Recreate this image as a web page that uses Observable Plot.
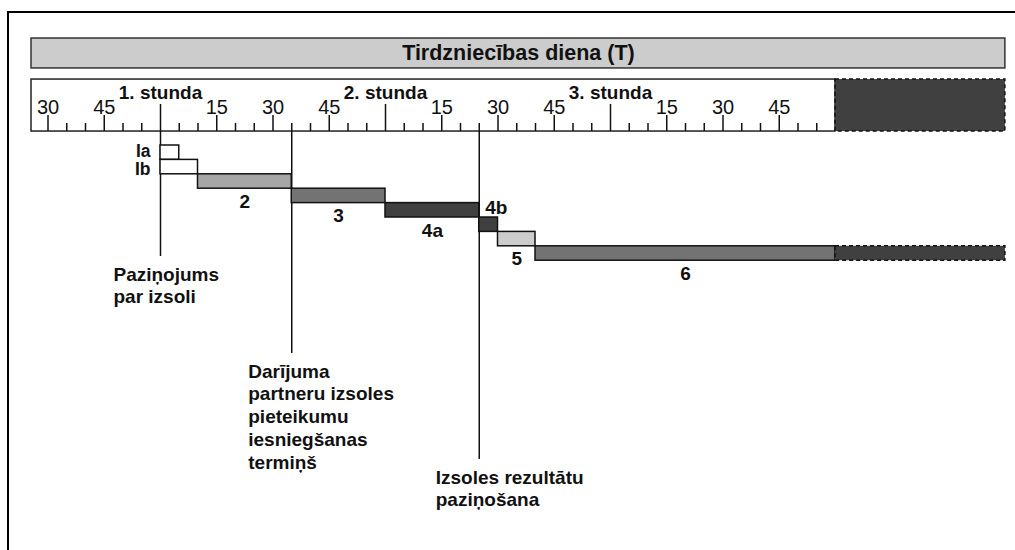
<!DOCTYPE html>
<html>
<head>
<meta charset="utf-8">
<script src="https://cdn.jsdelivr.net/npm/d3@7"></script>
<script src="https://cdn.jsdelivr.net/npm/@observablehq/plot@0.6"></script>
<style>
  html, body { margin: 0; padding: 0; background: #fff; overflow: hidden; }
  #wrap { position: relative; width: 1015px; height: 550px; overflow: hidden; }
  #frame { position: absolute; left: 7px; top: 11px; width: 1100px; height: 600px;
           border: 2px solid #000; box-sizing: border-box; pointer-events: none; }
</style>
</head>
<body>
<div id="wrap"><div id="frame"></div></div>
<script>
// ---------- data (minutes from start of trading day) ----------
const title = "Tirdzniecības diena (T)";
const hourMinutes = [60, 120, 180];
const hourLabels = ["1. stunda", "2. stunda", "3. stunda"];
const quarterMinutes = [30, 45, 75, 90, 105, 135, 150, 165, 195, 210, 225];
const quarterLabels = ["30", "45", "15", "30", "45", "15", "30", "45", "15", "30", "45"];
const minorMinutes = [35, 40, 50, 55, 65, 70, 80, 85, 95, 100, 110, 115, 125, 130,
                      140, 145, 155, 160, 170, 175, 185, 190, 200, 205, 215, 220, 230, 235];
const rulerStart = 25.6;
const rulerEnd = 240;
const dayEnd = 285.3;

const phaseIds   = ["Ia", "Ib", "2", "3", "4a", "4b", "5", "6"];
const phaseStart = [60, 60, 70, 95, 120, 145, 150, 160];
const phaseEnd   = [65, 70, 95, 120, 145, 150, 160, 240];
const continuationStart = 240;
const continuationEnd = 285.3;

const eventMinutes = [60, 95, 145];
const eventLabels = [
  "Paziņojums\npar izsoli",
  "Darījuma\npartneru izsoles\npieteikumu\niesniegšanas\ntermiņš",
  "Izsoles rezultātu\npaziņošana"
];

// ---------- layout & style (rows: one bar row = 1 unit) ----------
const L = {
  headerTop: -7.43, headerBottom: -5.35, headerText: -6.42,
  rulerTop: -4.58, rulerBottom: -0.97,
  hourTickTop: -2.85, quarterTickTop: -2.08, minorTickTop: -1.53,
  hourLabelBase: -3.26, quarterLabelBase: -2.22,
  eventLineEnd: [7.71, 14.44, 21.81],
  eventTextTop: [8.26, 15.0, 22.36],
  eventTextDx: [-47, -43.5, -43.5]
};
const fills = { "Ia": "#ffffff", "Ib": "#ffffff", "2": "#a6a6a6", "3": "#737373",
                "4a": "#404040", "4b": "#404040", "5": "#cccccc", "6": "#737373" };
const labelPlace = {
  "Ia": { anchor: "end", row: 0.38 },
  "Ib": { anchor: "end", row: 1.64 },
  "4b": { anchor: "start", row: 4.34 }
};
const font = "'Liberation Sans', Arial, Helvetica, sans-serif";
const ink = "#111";
const fs = 19;

const phases = phaseIds.map((id, i) => ({ id, start: phaseStart[i], end: phaseEnd[i], row: i }));
const labelX = d => labelPlace[d.id] ? d.start : (d.start + d.end) / 2;
const labelY = d => labelPlace[d.id] ? labelPlace[d.id].row : d.row + 1.9;

const labelMarks = ["start", "end", "middle"].map(anchor =>
  Plot.text(phases.filter(d => (labelPlace[d.id] ? labelPlace[d.id].anchor : "middle") === anchor), {
    x: labelX, y: labelY, text: "id",
    textAnchor: anchor,
    dx: anchor === "end" ? -10 : anchor === "start" ? 6 : 0,
    lineAnchor: "middle", fontSize: anchor === "end" ? 17.5 : fs, fontWeight: "bold", fill: ink
  })
);

const eventTextMarks = eventMinutes.map((m, i) =>
  Plot.text([m], { x: d => d, y: L.eventTextTop[i], text: () => eventLabels[i],
    textAnchor: "start", dx: L.eventTextDx[i], lineAnchor: "top", lineHeight: 1.2,
    fontSize: fs, fontWeight: "bold", fill: ink })
);

const chart = Plot.plot({
  width: 1015, height: 550, margin: 0,
  x: { domain: [52 / 3, 288], range: [0, 1015], axis: null },
  y: { domain: [-145 / 14.4, 405 / 14.4], range: [0, 550], axis: null },
  color: { type: "identity" },
  style: { fontFamily: font, background: "transparent", overflow: "visible" },
  marks: [
    // header
    Plot.rect([title], { x1: rulerStart, x2: dayEnd, y1: L.headerTop, y2: L.headerBottom,
      fill: "#cccccc", stroke: "#333", strokeWidth: 1.5 }),
    Plot.text([title], { x: (rulerStart + dayEnd) / 2, y: L.headerText, text: d => d,
      fontSize: 21.5, fontWeight: "bold", fill: ink }),
    // ruler
    Plot.rect([0], { x1: rulerStart, x2: rulerEnd, y1: L.rulerTop, y2: L.rulerBottom,
      fill: "#fff", stroke: "#222", strokeWidth: 1.5 }),
    Plot.rect([0], { x1: rulerEnd, x2: dayEnd, y1: L.rulerTop, y2: L.rulerBottom,
      fill: "#404040", stroke: "#111", strokeWidth: 1.5, strokeDasharray: "4,3" }),
    Plot.ruleX(minorMinutes, { x: d => d, y1: L.minorTickTop, y2: L.rulerBottom, stroke: ink, strokeWidth: 1.5 }),
    Plot.ruleX(quarterMinutes, { x: d => d, y1: L.quarterTickTop, y2: L.rulerBottom, stroke: ink, strokeWidth: 1.5 }),
    Plot.ruleX(hourMinutes, { x: d => d, y1: L.hourTickTop, y2: L.rulerBottom, stroke: ink, strokeWidth: 1.5 }),
    Plot.text(quarterMinutes, { x: d => d, y: L.quarterLabelBase, text: (d, i) => quarterLabels[i],
      lineAnchor: "bottom", fontSize: 20, fill: ink }),
    Plot.text(hourMinutes, { x: d => d, y: L.hourLabelBase, text: (d, i) => hourLabels[i],
      lineAnchor: "bottom", fontSize: fs, fontWeight: "bold", fill: ink }),
    // event lines
    Plot.ruleX(eventMinutes, { x: d => d, y1: L.rulerBottom, y2: (d, i) => L.eventLineEnd[i],
      stroke: ink, strokeWidth: 1.5 }),
    ...eventTextMarks,
    // phases
    Plot.rect(phases, { x1: "start", x2: "end", y1: "row", y2: d => d.row + 1,
      fill: d => fills[d.id], stroke: ink, strokeWidth: 1.5 }),
    Plot.rect([0], { x1: continuationStart, x2: continuationEnd, y1: 7, y2: 8,
      fill: "#404040", stroke: ink, strokeWidth: 1.5, strokeDasharray: "4,3" }),
    ...labelMarks
  ]
});
document.getElementById("wrap").prepend(chart);
</script>
</body>
</html>
